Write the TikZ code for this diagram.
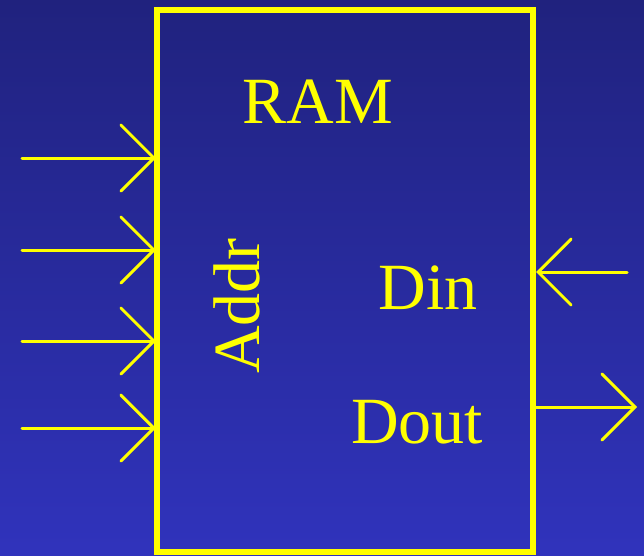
\documentclass[tikz,border=0pt]{standalone}
\usepackage{fontspec}
\setmainfont{Liberation Serif}
\usetikzlibrary{positioning, arrows.meta}
\definecolor{SlideTop}{HTML}{20227E}
\definecolor{SlideBottom}{HTML}{3033BC}
\definecolor{SigYellow}{HTML}{FFFF00}
\begin{document}
\begin{tikzpicture}[
  x=1pt, y=-1pt,
  block/.style={draw=SigYellow, line width=6pt, inner sep=0pt, minimum width=376pt, minimum height=542pt},
  sig/.style={draw=SigYellow, line width=3pt, line cap=round, -{Straight Barb[length=33pt, width=66pt, line cap=round]}},
  label/.style={text=SigYellow, font=\fontsize{66}{70}\selectfont, inner sep=0pt},
]
  % Background
  \useasboundingbox (0,0) rectangle (644,555);
  \shade[top color=SlideTop, bottom color=SlideBottom] (0,0) rectangle (644,555);

  % Memory block
  \node[block] (ram) at (345,281) {};
  \node[label, anchor=base] (title) at (318,123) {RAM};
  \node[label, anchor=base, rotate=90] (addr) at (259,306) {Addr};
  \node[label, anchor=base] (din) at (428,309) {Din};
  \node[label, anchor=base] (dout) at (417,443) {Dout};

  % Address lines
  \foreach \y [count=\i] in {158, 250, 341, 428} {
    \coordinate (a\i) at (22,\y);
    \draw[sig, shorten >=-2pt] (a\i) -- (a\i -| ram.west);
  }

  % Data lines
  \coordinate (dinsrc) at (627,272);
  \coordinate (doutdst) at (637,407);
  \draw[sig] (dinsrc) -- (dinsrc -| ram.east);
  \draw[sig] (doutdst -| ram.east) -- (doutdst);
\end{tikzpicture}
\end{document}
